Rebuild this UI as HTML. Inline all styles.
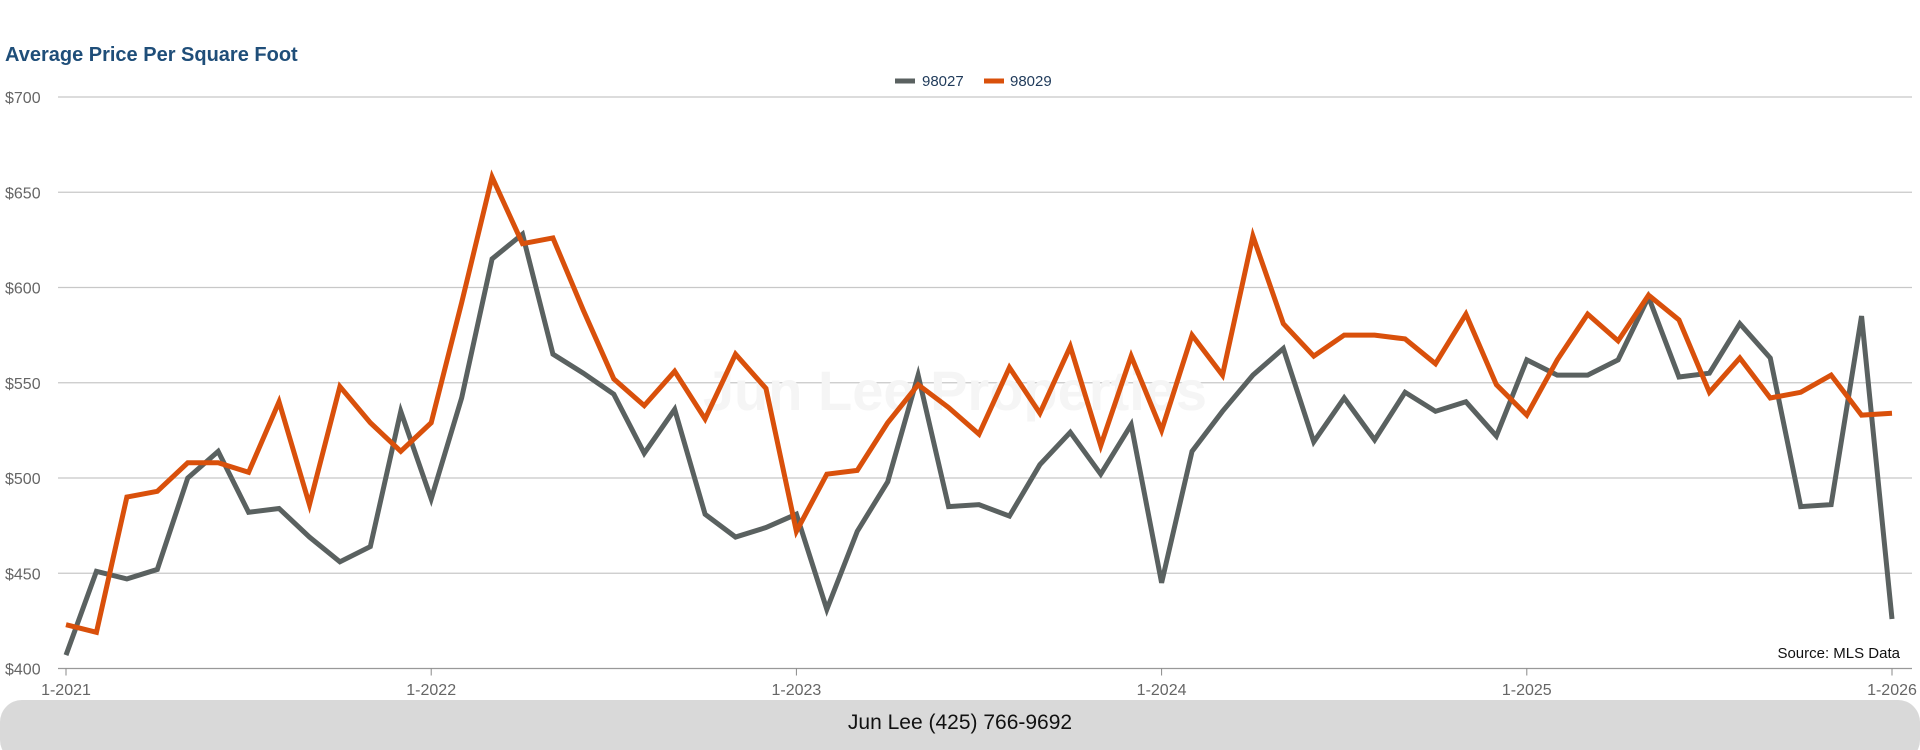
<!DOCTYPE html>
<html><head><meta charset="utf-8"><style>
html,body{margin:0;padding:0;background:#fff;width:1920px;height:750px;overflow:hidden;font-family:"Liberation Sans",sans-serif}
</style></head><body>
<svg width="1920" height="750" xmlns="http://www.w3.org/2000/svg">
<text x="5" y="61" font-size="20" font-weight="bold" fill="#1f4e79">Average Price Per Square Foot</text>
<g id="grid"></g>
<text x="955" y="410" font-size="56" font-weight="bold" fill="#f5f5f5" text-anchor="middle">Jun Lee Properties</text>
<g id="lines"></g>
<g>
<g><line x1="895" y1="81" x2="915" y2="81" stroke="#5a6160" stroke-width="5"/><text x="922" y="86" font-size="15" fill="#1f3a5a">98027</text></g>
<g><line x1="984" y1="81" x2="1004" y2="81" stroke="#d9500b" stroke-width="5"/><text x="1010" y="86" font-size="15" fill="#1f3a5a">98029</text></g>
</g>
<text x="1900" y="658" font-size="15" fill="#111" text-anchor="end">Source: MLS Data</text>
<rect x="0" y="700" width="1920" height="62" rx="22" fill="#d9d9d9"/>
<text x="960" y="729" font-size="21" fill="#111" text-anchor="middle">Jun Lee (425) 766-9692</text>
</svg>
<script>
const yTicks=[400,450,500,550,600,650,700];
const xTickLabels=["1-2021","1-2022","1-2023","1-2024","1-2025","1-2026"];
const series98027=[407,451,447,452,500,514,482,484,469,456,464,535,489,542,615,628,565,555,544,513,536,481,469,474,481,431,472,498,554,485,486,480,507,524,502,528,445,514,535,554,568,519,542,520,545,535,540,522,562,554,554,562,595,553,555,581,563,485,486,585,426];
const series98029=[423,419,490,493,508,508,503,540,486,548,529,514,529,592,658,623,626,588,552,538,556,531,565,547,472,502,504,529,549,537,523,558,534,569,517,564,525,575,554,627,581,564,575,575,573,560,586,549,533,562,586,572,596,583,545,563,542,545,554,533,534];
const NS="http://www.w3.org/2000/svg";
const x0=66,x1=1892,yTop=97,yBot=668.5,vMin=400,vMax=700;
function xs(i){return x0+(x1-x0)*i/60;}
function ys(v){return yBot-(v-vMin)/(vMax-vMin)*(yBot-yTop);}
const grid=document.getElementById('grid');
yTicks.forEach(t=>{
 const l=document.createElementNS(NS,'line');
 l.setAttribute('x1',58);l.setAttribute('x2',1912);
 l.setAttribute('y1',ys(t));l.setAttribute('y2',ys(t));
 l.setAttribute('stroke',t===400?'#999':'#c8c8c8');l.setAttribute('stroke-width',1.3);
 
 
 grid.appendChild(l);
 const tx=document.createElementNS(NS,'text');
 tx.setAttribute('x',5);tx.setAttribute('y',ys(t)+6);
 tx.setAttribute('font-size',16);tx.setAttribute('fill','#666');
 tx.textContent='$'+t;
 
 
 grid.appendChild(tx);
});
xTickLabels.forEach((lab,k)=>{
 const x=xs(k*12);
 const tk=document.createElementNS(NS,'line');
 tk.setAttribute('x1',x);tk.setAttribute('x2',x);tk.setAttribute('y1',yBot);tk.setAttribute('y2',yBot+7);
 tk.setAttribute('stroke','#888');
 
 
 grid.appendChild(tk);
 const tx=document.createElementNS(NS,'text');
 tx.setAttribute('x',x);tx.setAttribute('y',695);
 tx.setAttribute('font-size',16);tx.setAttribute('fill','#666');tx.setAttribute('text-anchor','middle');
 tx.textContent=lab;
 
 
 grid.appendChild(tx);
});
const lines=document.getElementById('lines');
[[series98027,'#5a6160','line-98027'],[series98029,'#d9500b','line-98029']].forEach(([d,c,n])=>{
 const p=document.createElementNS(NS,'polyline');
 p.setAttribute('points',d.map((v,i)=>xs(i)+','+ys(v)).join(' '));
 p.setAttribute('fill','none');p.setAttribute('stroke',c);p.setAttribute('stroke-width',5);
 p.setAttribute('stroke-linejoin','miter');
 
 
 lines.appendChild(p);
});
</script>
</body></html>
